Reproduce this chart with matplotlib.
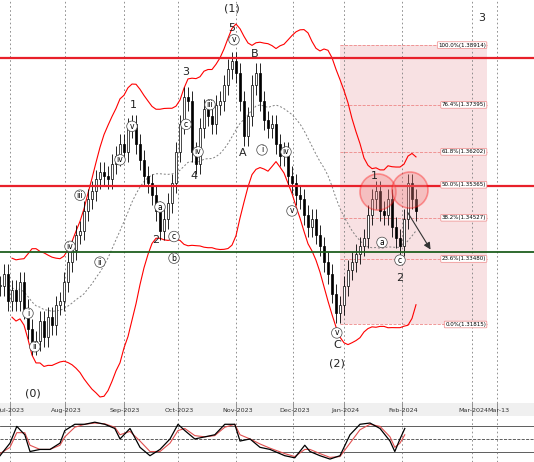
import matplotlib
matplotlib.use("Agg")
import matplotlib.pyplot as plt
import numpy as np
from matplotlib.patches import Ellipse, Rectangle

closes = [1.328,1.331,1.324,1.327,1.324,1.329,1.322,1.317,1.313,1.314,1.319,1.315,1.320,1.318,1.323,1.324,
          1.329,1.334,1.337,1.341,1.342,1.347,1.350,1.352,1.355,1.357,1.356,1.355,1.359,1.361,1.364,1.362,
          1.368,1.369,1.364,1.360,1.356,1.354,1.351,1.347,1.342,1.345,1.349,1.354,1.362,1.369,1.376,1.375,
          1.362,1.359,1.368,1.373,1.371,1.369,1.374,1.375,1.379,1.383,1.385,1.382,1.375,1.366,1.371,1.379,
          1.382,1.375,1.370,1.368,1.369,1.364,1.361,1.362,1.356,1.354,1.351,1.350,1.346,1.343,1.345,1.341,
          1.338,1.334,1.331,1.326,1.321,1.323,1.328,1.332,1.334,1.336,1.338,1.340,1.346,1.350,1.352,1.347,
          1.346,1.350,1.343,1.340,1.338,1.345,1.354,1.350,1.347]
wick = 0.0025
tick_pos = [2.5,16.25,31,44.5,59,73.25,86,100.5,118,124.25]
tick_lab = ["Jul-2023","Aug-2023","Sep-2023","Oct-2023","Nov-2023","Dec-2023","Jan-2024","Feb-2024","Mar-2024","Mar-13"]
fib_pct = ["100.0%","76.4%","61.8%","50.0%","38.2%","23.6%","0.0%"]
fib_val = [1.38914,1.37395,1.36202,1.35365,1.34527,1.33480,1.31815]
red_levels = [1.3859,1.3533]
green_level = 1.3366
stoch_x = [0,2.5,4.2,6.2,7.5,10,12.5,15,16.2,18.7,21.2,23.7,26.2,28.7,30,32.5,35,37.5,40,42.5,44.5,46.2,48.7,51.2,
           53.7,56.2,58.7,60,62.5,65,67.5,71.2,73.7,76.2,77.5,80,82.5,85,87.5,90,92.5,95,97.5,98.7,100,101.2]
stoch_k = [10,40,80,60,20,25,25,40,70,85,85,90,85,75,50,75,30,10,25,50,85,70,50,55,60,85,85,45,50,30,25,10,5,35,20,10,2,10,60,85,88,75,45,20,50,75]
stoch_d = [15,30,65,65,35,25,25,35,55,78,85,88,86,78,60,68,45,20,20,40,70,75,58,55,58,78,85,60,50,38,28,15,8,25,25,15,6,8,40,72,85,80,55,30,40,60]

fig = plt.figure(figsize=(5.34,4.62), dpi=100)
ax = fig.add_axes([0,1-403/462,1,403/462])
n = len(closes)
opens = [closes[0]] + closes[:-1]
for i in range(n):
    o, c = opens[i], closes[i]
    ax.vlines(i, min(o,c)-wick, max(o,c)+wick, color="black", lw=0.6, zorder=3)
    col = "white" if c >= o else "black"
    ax.add_patch(Rectangle((i-0.3, min(o,c)), 0.6, max(abs(c-o),0.0003), facecolor=col, edgecolor="black", lw=0.5, zorder=4))
cs = np.array(closes)
idx = np.arange(n)
w = 20
ma = np.array([cs[max(0,i-w+1):i+1].mean() for i in idx])
sd = np.array([cs[max(0,i-w+1):i+1].std() for i in idx])
ax.plot(idx[3:], ma[3:], color="gray", ls=(0,(2,2)), lw=0.7, zorder=2)
ax.plot(idx[3:], ma[3:]+2*sd[3:]+0.0025, color="red", lw=0.8, zorder=2)
ax.plot(idx[3:], ma[3:]-2*sd[3:]-0.0025, color="red", lw=0.8, zorder=2)

ax.add_patch(Rectangle((85, fib_val[-1]), 36.75, fib_val[0]-fib_val[-1], facecolor="#f4c9cc", alpha=0.55, zorder=0))
for p, v in zip(fib_pct, fib_val):
    ax.plot([85,121.75],[v,v], color="#e88", ls="--", lw=0.6, zorder=1)
    ax.text(121.5, v, f"{p}({v:.5f})", fontsize=4, ha="right", va="center",
            bbox=dict(boxstyle="round,pad=0.15", fc="white", ec="#e88", lw=0.5), zorder=6)
for v in red_levels:
    ax.axhline(v, color="#e8202a", lw=1.6, zorder=5)
ax.axhline(green_level, color="#1f5f1f", lw=1.3, zorder=5)
for t in tick_pos:
    ax.axvline(t, color="gray", ls=(0,(2,3)), lw=0.6, zorder=1)
for (cx, cy) in [(94.5,1.3518),(102.5,1.3523)]:
    ax.add_patch(Ellipse((cx,cy), 9, 0.0092, facecolor="#f08080", alpha=0.35, edgecolor="red", lw=1.2, zorder=6))
ax.annotate("", xy=(108,1.3366), xytext=(101.5,1.3473), arrowprops=dict(arrowstyle="-|>", color="#333", lw=0.8), zorder=7)

labels = [(8.2,1.3006,"(0)"),(58,1.3985,"(1)"),(84.2,1.3082,"(2)"),
          (33.3,1.3740,"1"),(39,1.3396,"2"),(46.5,1.3822,"3"),(48.5,1.3558,"4"),
          (58,1.3935,"5"),(60.7,1.3618,"A"),(63.7,1.3868,"B"),(84.2,1.3130,"C"),
          (93.5,1.3560,"1"),(100,1.3300,"2"),(120.5,1.3960,"3")]
for x,y,t in labels:
    ax.text(x,y,t,fontsize=8,ha="center",va="center",color="#222",zorder=8)
circ = [(8.7,1.3125,"ii"),(7,1.3210,"i"),(17.5,1.3380,"iv"),(20,1.3510,"iii"),(25,1.3340,"ii"),(30,1.3600,"iv"),
        (33,1.3685,"v"),(40,1.3480,"a"),(43.5,1.3405,"c"),(43.5,1.3350,"b"),(46.5,1.3690,"c"),(49.5,1.3620,"iv"),
        (52.5,1.3740,"iii"),(58.5,1.3905,"v"),(65.5,1.3625,"i"),(71.5,1.3620,"iv"),(73,1.3470,"v"),(84.2,1.3160,"v"),
        (95.5,1.3390,"a"),(100,1.3345,"c")]
for x,y,t in circ:
    ax.text(x,y,t,fontsize=5.5,ha="center",va="center",zorder=8,
            bbox=dict(boxstyle="circle,pad=0.1",fc="white",ec="#444",lw=0.5))
ax.set_xlim(0,133.5)
ax.set_ylim(1.2982,1.4006)
ax.set_xticks([]); ax.set_yticks([])
for s in ax.spines.values(): s.set_visible(False)

band = fig.add_axes([0,1-416/462,1,13/462])
band.set_xlim(0,133.5); band.set_ylim(0,1)
band.set_facecolor("#f0f0f0")
band.set_xticks([]); band.set_yticks([])
for t,l in zip(tick_pos,tick_lab):
    band.axvline(t,color="gray",lw=0.6)
    band.text(t+0.3,0.45,l,fontsize=4.6,ha="center",va="center",color="#333")
for s in band.spines.values(): s.set_visible(False)

sx = fig.add_axes([0,0,1,1-418/462])
sx.set_xlim(0,133.5); sx.set_ylim(-5,100)
for v,st in [(80,"-"),(50,"--"),(20,"-")]:
    sx.axhline(v,color="#444",lw=0.6,ls=st)
for t in tick_pos:
    sx.axvline(t,color="gray",ls=(0,(2,3)),lw=0.6)
sx.plot(stoch_x,stoch_d,color="#e05050",lw=0.8)
sx.plot(stoch_x,stoch_k,color="black",lw=0.9)
sx.set_xticks([]); sx.set_yticks([])
for s in sx.spines.values(): s.set_visible(False)
fig.savefig("out.png",dpi=100)
